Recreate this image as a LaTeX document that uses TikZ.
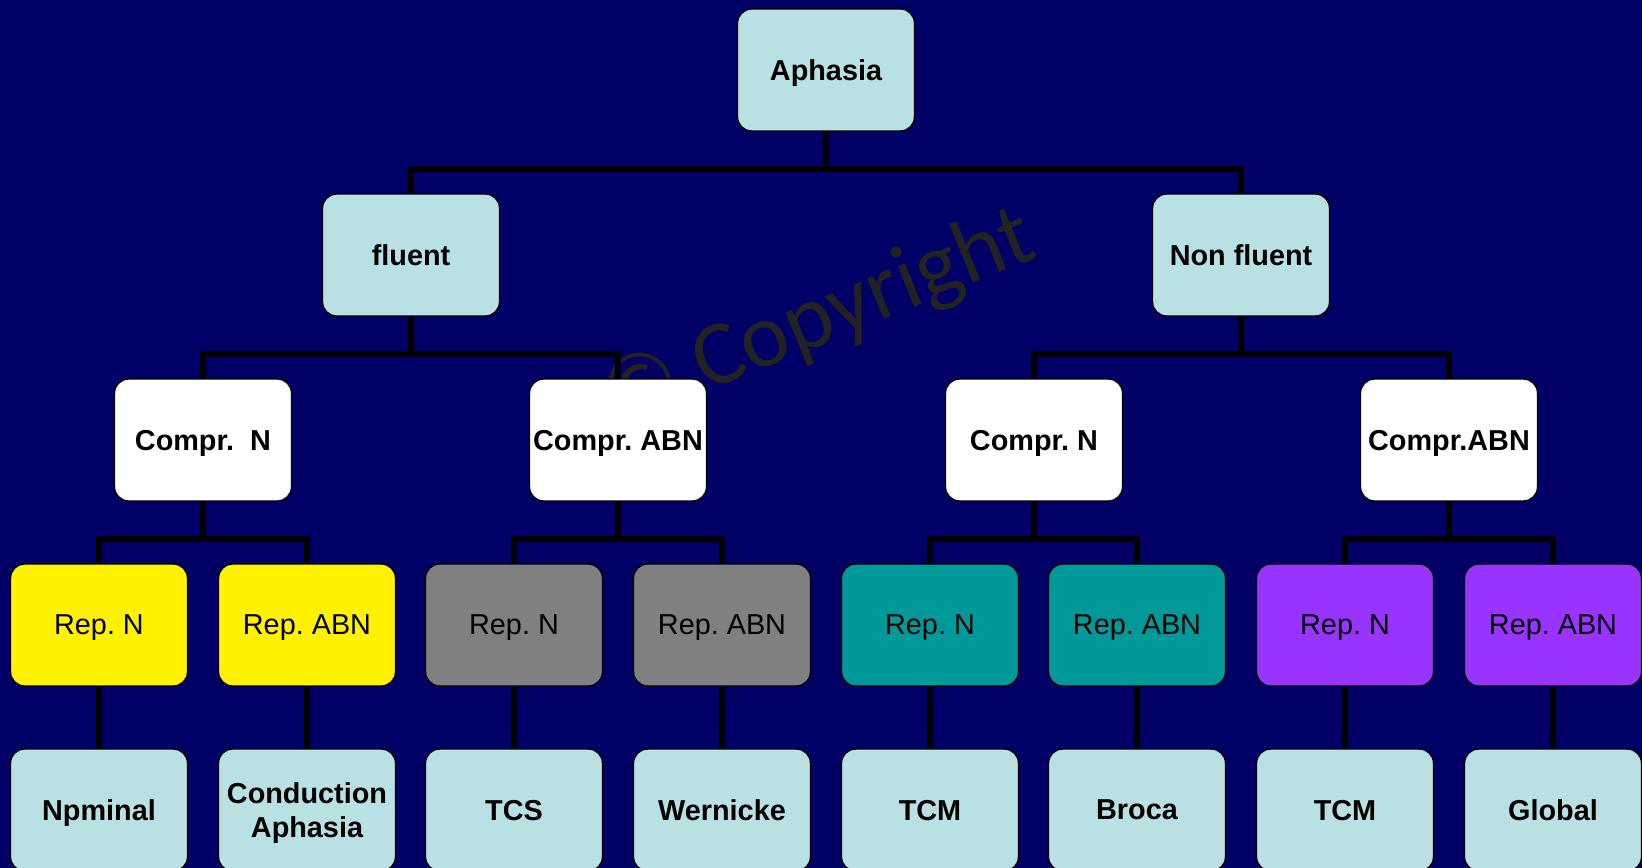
\documentclass[tikz,border=0pt]{standalone}
\usepackage{fontspec}
\setmainfont{Liberation Sans}
\newfontfamily\markfont{Carlito}
\usetikzlibrary{backgrounds}
\frenchspacing

\definecolor{navy}{RGB}{0,0,102}
\definecolor{paleblue}{RGB}{185,224,227}
\definecolor{tealbox}{RGB}{0,153,153}
\definecolor{purplebox}{RGB}{153,51,255}
\definecolor{graybox}{RGB}{128,128,128}
\definecolor{markgray}{RGB}{34,34,34}

\tikzset{
	box/.style={draw=black, line width=0.8pt, rounded corners=0.28cm, minimum width=3.54cm, minimum height=2.44cm, inner sep=0pt, text depth=0pt, align=center, font=\fontsize{16.4}{19.3}\selectfont},
	boldbox/.style={box, font=\fontsize{16.4}{19.3}\selectfont\bfseries},
	link/.style={draw=black, line width=3.6pt},
}

\begin{document}
\begin{tikzpicture}[x=0.02cm, y=-0.02cm]
	\useasboundingbox (0,0) rectangle (1642,868);
	% top levels
	\node[boldbox, fill=paleblue] (aphasia) at (826,70) {Aphasia};
	\node[boldbox, fill=paleblue] (fluent) at (411,255) {fluent};
	\node[boldbox, fill=paleblue] (nonfluent) at (1241,255) {Non fluent};
	\node[boldbox, fill=white] (comprNl) at (203,440) {Compr.~~N};
	\node[boldbox, fill=white] (comprAl) at (618,440) {Compr. ABN};
	\node[boldbox, fill=white] (comprNr) at (1034,440) {Compr. N};
	\node[boldbox, fill=white] (comprAr) at (1449,440) {Compr.ABN};
	% repetition
	\node[box, fill=yellow] (repNa) at (99,625) {Rep. N};
	\node[box, fill=yellow] (repAa) at (307,625) {Rep. ABN};
	\node[box, fill=graybox] (repNb) at (514,625) {Rep. N};
	\node[box, fill=graybox] (repAb) at (722,625) {Rep. ABN};
	\node[box, fill=tealbox] (repNc) at (930,625) {Rep. N};
	\node[box, fill=tealbox] (repAc) at (1137,625) {Rep. ABN};
	\node[box, fill=purplebox] (repNd) at (1345,625) {Rep. N};
	\node[box, fill=purplebox] (repAd) at (1553,625) {Rep. ABN};
	% types
	\node[boldbox, fill=paleblue] (nominal) at (99,810) {Npminal};
	\node[boldbox, fill=paleblue] (conduction) at (307,810) {Conduction\\Aphasia};
	\node[boldbox, fill=paleblue] (tcs) at (514,810) {TCS};
	\node[boldbox, fill=paleblue] (wernicke) at (722,810) {Wernicke};
	\node[boldbox, fill=paleblue] (tcmA) at (930,810) {TCM};
	\node[boldbox, fill=paleblue] (broca) at (1137,810) {Broca};
	\node[boldbox, fill=paleblue] (tcmB) at (1345,810) {TCM};
	\node[boldbox, fill=paleblue] (global) at (1553,810) {Global};

	\begin{scope}[on background layer]
		\fill[navy] (0,0) rectangle (1642,868);
		\node[rotate=22, text=markgray, font=\markfont\fontsize{52}{52}\selectfont] (mark) at (819,320) {© Copyright};
		\draw[link] (aphasia.south) -- ++(0,37) -| (fluent.north);
		\draw[link] (aphasia.south) -- ++(0,37) -| (nonfluent.north);
		\draw[link] (fluent.south) -- ++(0,37) -| (comprNl.north);
		\draw[link] (fluent.south) -- ++(0,37) -| (comprAl.north);
		\draw[link] (nonfluent.south) -- ++(0,37) -| (comprNr.north);
		\draw[link] (nonfluent.south) -- ++(0,37) -| (comprAr.north);
		\draw[link] (comprNl.south) -- ++(0,37) -| (repNa.north);
		\draw[link] (comprNl.south) -- ++(0,37) -| (repAa.north);
		\draw[link] (comprAl.south) -- ++(0,37) -| (repNb.north);
		\draw[link] (comprAl.south) -- ++(0,37) -| (repAb.north);
		\draw[link] (comprNr.south) -- ++(0,37) -| (repNc.north);
		\draw[link] (comprNr.south) -- ++(0,37) -| (repAc.north);
		\draw[link] (comprAr.south) -- ++(0,37) -| (repNd.north);
		\draw[link] (comprAr.south) -- ++(0,37) -| (repAd.north);
		\draw[link] (repNa) -- (nominal); % single child
		\draw[link] (repAa) -- (conduction);
		\draw[link] (repNb) -- (tcs);
		\draw[link] (repAb) -- (wernicke);
		\draw[link] (repNc) -- (tcmA);
		\draw[link] (repAc) -- (broca);
		\draw[link] (repNd) -- (tcmB);
		\draw[link] (repAd) -- (global);
	\end{scope}
\end{tikzpicture}
\end{document}
